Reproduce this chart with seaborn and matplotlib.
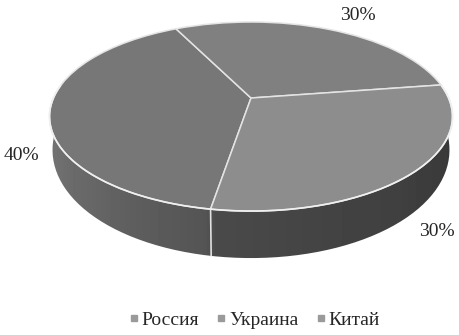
# -*- coding: utf-8 -*-
import numpy as np
import matplotlib
matplotlib.use("Agg")
import matplotlib.pyplot as plt
import seaborn as sns
from matplotlib.lines import Line2D
from matplotlib.patches import Polygon
from matplotlib.transforms import Transform

# ===================== data =====================
CATEGORIES = ["Россия", "Украина", "Китай"]
VALUES = [40, 30, 30]
LABELS = ["40%", "30%", "30%"]
FACE_COLORS = ["#777777", "#808080", "#8d8d8d"]

# picture geometry (pixels), the pie is tilted with a slight perspective
CX, CY = 251, 98
RX, RY, PERSP = 197.6, 90.9, 0.196
START_ANGLE = 260.5
DEPTH_SIDE, DEPTH_FRONT = 30, 47

sns.set_theme(style="white")
plt.rcParams["font.family"] = ["Liberation Serif", "DejaVu Serif"]


class TiltTransform(Transform):
    input_dims = 2
    output_dims = 2

    def transform_non_affine(self, values):
        values = np.asarray(values, dtype=float)
        w = 1 + PERSP * values[:, 1]
        return np.column_stack([CX + RX * values[:, 0] / w, CY - RY * values[:, 1] / w])


def rim_points(theta1, theta2, tilt):
    t = np.radians(np.linspace(theta1, theta2, 80))
    top = tilt.transform_non_affine(np.column_stack([np.cos(t), np.sin(t)]))
    bottom = top.copy()
    bottom[:, 0] = CX + (top[:, 0] - CX) * 0.985
    bottom[:, 1] = top[:, 1] + DEPTH_SIDE + (DEPTH_FRONT - DEPTH_SIDE) * np.clip(-np.sin(t), 0, 1)
    return top, bottom


fig = plt.figure(figsize=(4.59, 3.35), dpi=100)
ax = fig.add_axes([0, 0, 1, 1])

wedges, _ = ax.pie(
    VALUES, colors=FACE_COLORS, startangle=START_ANGLE, counterclock=False, radius=1,
    wedgeprops={"edgecolor": "#e4e4e4", "linewidth": 1.1},
)
tilt = TiltTransform()
for w in wedges:
    w.set_transform(tilt + ax.transData)
    w.set_zorder(5)

ax.set_aspect("auto")
ax.set_xlim(0, 459)
ax.set_ylim(335, 0)
ax.axis("off")

# side wall, horizontal shading clipped to the front half of the rim
top, bottom = rim_points(172, 368, tilt)
wall = Polygon(np.vstack([top, bottom[::-1]]), closed=True, transform=ax.transData,
               facecolor="none", edgecolor="none")
ax.add_patch(wall)
shade_x = [45, 70, 130, 205, 215, 300, 400, 460]
shade_v = [0.46, 0.42, 0.37, 0.33, 0.29, 0.27, 0.25, 0.22]
xs = np.arange(45, 460)
shade = np.interp(xs, shade_x, shade_v)[None, :]
img = ax.imshow(shade, cmap="gray", vmin=0, vmax=1, extent=[45, 460, 270, 110],
                aspect="auto", zorder=2)
img.set_clip_path(wall)
ax.set_xlim(0, 459)
ax.set_ylim(335, 0)

# front rim of the wall and the seam between the two front slices
ax.plot(top[:, 0], top[:, 1], color="#f0f0f0", lw=1.2, zorder=6)
seam_top, seam_bottom = rim_points(START_ANGLE, START_ANGLE, tilt)
ax.plot([seam_top[0, 0], seam_bottom[0, 0]], [seam_top[0, 1], seam_bottom[0, 1]],
        color="#e0e0e0", lw=1.2, zorder=4)

# percent labels
label_pos = [(21, 155), (358, 16), (437, 231)]
for text, (x, y) in zip(LABELS, label_pos):
    ax.text(x, y, text, ha="center", va="center", fontsize=14, color="#262626")

handles = [Line2D([], [], linestyle="none", marker="s", markersize=3.8, color="#9a9a9a")
           for _ in CATEGORIES]
ax.legend(handles, CATEGORIES, ncol=3, loc="center", bbox_to_anchor=(252 / 459, 1 - 320 / 335),
          frameon=False, fontsize=14, handletextpad=-0.1, columnspacing=0.65,
          labelcolor="#262626", handlelength=1.0)

fig.savefig("out.png", dpi=100)
